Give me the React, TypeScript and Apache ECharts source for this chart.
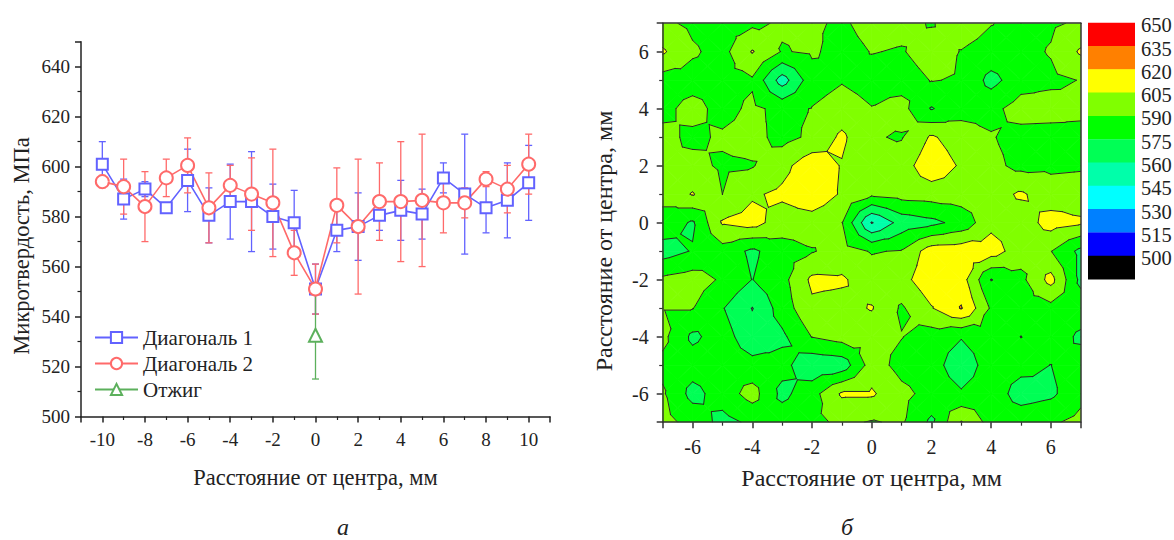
import React, { useEffect, useRef } from "react";
import * as echarts from "echarts";

// ---------- Panel (a): microhardness profiles ----------
const positions = [-10, -9, -8, -7, -6, -5, -4, -3, -2, -1, 0, 1, 2, 3, 4, 5, 6, 7, 8, 9, 10];
const diag1Values = [601, 587, 591, 583.5, 594.5, 580.5, 586, 586, 580, 577.5, 551, 574.5, 576, 580.5, 582.5, 581, 595.5, 589, 583.5, 586.5, 593.5];
const diag1Errors = [9, 8, 3, 2, 12.5, 11, 15, 20, 13, 13, 10, 8.5, 13.5, 6, 12, 10, 6, 24, 10, 15, 15];
const diag2Values = [594, 592, 584, 595.5, 600.5, 583.5, 592.5, 589, 585.5, 565.5, 551, 584.5, 576, 586, 586, 586.5, 585.5, 585.5, 595, 591, 601];
const diag2Errors = [2.5, 11, 14, 7.5, 11, 14, 8, 14.5, 21.5, 9, 10, 15, 27, 15.5, 24, 26.5, 12, 6, 3, 9.5, 12];
const annealPositions = [0];
const annealValues = [532.5];
const annealErrors = [17.5];
const seriesNames = ["Диагональ 1", "Диагональ 2", "Отжиг"];
const leftXTitle = "Расстояние от центра, мм";
const leftYTitle = "Микротвердость, МПа";
const rightXTitle = "Расстояние от центра, мм";
const rightYTitle = "Расстояние от центра, мм";

// ---------- Panel (б): hardness map, rows from y = 7 (top) to y = -7 (bottom), x = -7..7 ----------
const mapX = [-7, -6, -5, -4, -3, -2, -1, 0, 1, 2, 3, 4, 5, 6, 7];
const mapY = [7, 6, 5, 4, 3, 2, 1, 0, -1, -2, -3, -4, -5, -6, -7];
const rowY7 = [593, 587, 584, 587, 592, 592, 588, 595, 594, 589, 597, 590.5, 586, 588, 592];
const rowY6 = [607, 592, 585, 606, 589, 592, 585, 590.5, 589, 596, 589.5, 585, 586, 591, 607];
const rowY5 = [583, 584, 585, 588, 553, 584, 589, 585, 584, 590.5, 589, 570, 584, 587, 590.5];
const rowY4 = [586, 595, 585, 593, 586, 590.5, 596, 590.5, 595, 574, 585, 586, 596, 596, 593];
const rowY3 = [594, 587, 592, 595, 585, 593, 608, 591, 589, 607, 597, 591, 585, 584, 586];
const rowY2 = [590.5, 594, 588, 589, 600, 615, 604, 590.5, 598, 615, 603, 594, 586, 587, 588];
const rowY1 = [594, 606, 590, 603, 608, 617, 603, 593, 596, 597, 598, 599, 607, 597, 598];
const rowY0 = [585, 573, 606.5, 611, 597, 597, 590.5, 544, 566, 571, 580, 601, 597, 611, 607];
const rowYm1 = [568, 576, 584, 572, 584, 589, 596, 589, 591, 613, 614, 612, 597, 590.5, 571];
const rowYm2 = [593, 597, 588, 574.7, 585, 608, 607, 597, 600, 615, 612, 574.5, 586, 610, 571];
const rowYm3 = [590.5, 590.5, 576, 559.5, 582, 602, 600, 606, 588, 604, 621, 588, 583, 585, 584];
const rowYm4 = [594, 572, 582, 565, 572, 590.5, 596, 595, 590.5, 583, 576, 584, 574.8, 584, 572];
const rowYm5 = [586, 582, 584, 580, 580, 564, 566, 597, 585, 582, 565, 583, 580, 574.8, 583];
const rowYm6 = [592, 570, 582, 596, 571, 584, 607, 607, 594, 585, 577, 584, 568, 572, 586];
const rowYm7 = [595, 585, 570, 578, 584, 586, 593, 589, 592, 572, 606, 584, 585, 588, 594];
const mapRows = [rowY7, rowY6, rowY5, rowY4, rowY3, rowY2, rowY1, rowY0, rowYm1, rowYm2, rowYm3, rowYm4, rowYm5, rowYm6, rowYm7];

const levelBounds = [500, 515, 530, 545, 560, 575, 590, 605, 620, 635];
const bandColors = ["#000000", "#0000ff", "#0080ff", "#00ffff", "#00ffaa", "#00ff55", "#00ff00", "#80ff00", "#ffff00", "#ff8000", "#ff0000"];
const colorbarLabels = ["650", "635", "620", "605", "590", "575", "560", "545", "530", "515", "500"];

const FONT = "Liberation Serif";

type P = number[];

function nodeValue(x: number, y: number): number {
  const r = mapY.indexOf(y);
  const c = mapX.indexOf(x);
  return mapRows[r][c];
}

function cellTriangles(x0: number, y0: number): P[][] {
  const a = [x0, y0, nodeValue(x0, y0)];
  const b = [x0 + 1, y0, nodeValue(x0 + 1, y0)];
  const c = [x0 + 1, y0 + 1, nodeValue(x0 + 1, y0 + 1)];
  const d = [x0, y0 + 1, nodeValue(x0, y0 + 1)];
  const m = [x0 + 0.5, y0 + 0.5, (a[2] + b[2] + c[2] + d[2]) / 4];
  return [[a, b, m], [b, c, m], [c, d, m], [d, a, m]];
}

function clipPoly(pts: P[], level: number, keepAbove: boolean): P[] {
  const out: P[] = [];
  for (let i = 0; i < pts.length; i++) {
    const p = pts[i];
    const q = pts[(i + 1) % pts.length];
    const inP = keepAbove ? p[2] >= level : p[2] <= level;
    const inQ = keepAbove ? q[2] >= level : q[2] <= level;
    if (inP) out.push(p);
    if (inP !== inQ) {
      const t = (level - p[2]) / (q[2] - p[2]);
      out.push([p[0] + t * (q[0] - p[0]), p[1] + t * (q[1] - p[1]), level]);
    }
  }
  return out;
}

const mapCells: number[][] = [];
for (let x = -7; x < 7; x++) for (let y = -7; y < 7; y++) mapCells.push([x, y]);

function renderFill(params: any, api: any) {
  const x0 = api.value(0);
  const y0 = api.value(1);
  const children: any[] = [];
  for (const tri of cellTriangles(x0, y0)) {
    for (let bIdx = 0; bIdx < bandColors.length; bIdx++) {
      let poly = tri;
      if (bIdx > 0) poly = clipPoly(poly, levelBounds[bIdx - 1], true);
      if (poly.length < 3) continue;
      if (bIdx < bandColors.length - 1) poly = clipPoly(poly, levelBounds[bIdx], false);
      if (poly.length < 3) continue;
      children.push({
        type: "polygon",
        shape: { points: poly.map((p) => api.coord([p[0], p[1]])) },
        style: { fill: bandColors[bIdx], stroke: bandColors[bIdx], lineWidth: 0.8 },
      });
    }
  }
  return { type: "group", children };
}

function renderIso(params: any, api: any) {
  const x0 = api.value(0);
  const y0 = api.value(1);
  const children: any[] = [];
  for (const tri of cellTriangles(x0, y0)) {
    for (const lv of levelBounds) {
      const L = lv + 1e-6;
      const pts: number[][] = [];
      for (let i = 0; i < 3; i++) {
        const p = tri[i];
        const q = tri[(i + 1) % 3];
        if ((p[2] - L) * (q[2] - L) < 0) {
          const t = (L - p[2]) / (q[2] - p[2]);
          pts.push(api.coord([p[0] + t * (q[0] - p[0]), p[1] + t * (q[1] - p[1])]));
        }
      }
      if (pts.length === 2) {
        children.push({
          type: "line",
          shape: { x1: pts[0][0], y1: pts[0][1], x2: pts[1][0], y2: pts[1][1] },
          style: { stroke: "#2a2a2a", lineWidth: 1, lineCap: "round" },
        });
      }
    }
  }
  return { type: "group", children };
}

function errorBarRenderer(color: string) {
  return (params: any, api: any) => {
    const x = api.value(0);
    const lo = api.coord([x, api.value(1)]);
    const hi = api.coord([x, api.value(2)]);
    const w = 3.5;
    const st = { stroke: color, lineWidth: 1.3 };
    return {
      type: "group",
      children: [
        { type: "line", shape: { x1: lo[0], y1: lo[1], x2: hi[0], y2: hi[1] }, style: st },
        { type: "line", shape: { x1: lo[0] - w, y1: lo[1], x2: lo[0] + w, y2: lo[1] }, style: st },
        { type: "line", shape: { x1: hi[0] - w, y1: hi[1], x2: hi[0] + w, y2: hi[1] }, style: st },
      ],
    };
  };
}

const BLUE = "#6262ff";
const RED = "#ff6a6a";
const GREEN = "#5cb05c";
const INK = "#222";

export default function App() {
  const ref = useRef<HTMLDivElement>(null);
  useEffect(() => {
    if (!ref.current) return;
    const chart = echarts.init(ref.current, undefined, { renderer: "svg" });

    const graphic: any[] = [];
    const cbTop = 22.7;
    const cbStep = 23.3;
    for (let i = 0; i < colorbarLabels.length; i++) {
      graphic.push({
        type: "rect",
        shape: { x: 1088, y: cbTop + i * cbStep, width: 47, height: cbStep + 0.4 },
        style: { fill: bandColors[bandColors.length - 1 - i] },
      });
      graphic.push({
        type: "text",
        x: 1141,
        y: cbTop + i * cbStep + 2.5,
        style: { text: colorbarLabels[i], fontFamily: FONT, fontSize: 20.5, fill: INK, verticalAlign: "middle" },
      });
    }
    graphic.push({
      type: "text", x: 21, y: 246, rotation: Math.PI / 2,
      style: { text: leftYTitle, fontFamily: FONT, fontSize: 22.5, fill: INK, align: "center", verticalAlign: "middle" },
    });
    graphic.push({
      type: "text", x: 604, y: 241, rotation: Math.PI / 2,
      style: { text: rightYTitle, fontFamily: FONT, fontSize: 24, fill: INK, align: "center", verticalAlign: "middle" },
    });
    graphic.push({
      type: "text", x: 343, y: 527,
      style: { text: "а", fontFamily: FONT, fontSize: 24, fontStyle: "italic", fill: INK, align: "center", verticalAlign: "middle" },
    });
    graphic.push({
      type: "text", x: 847, y: 527,
      style: { text: "б", fontFamily: FONT, fontSize: 24, fontStyle: "italic", fill: INK, align: "center", verticalAlign: "middle" },
    });

    const option: any = {
      animation: false,
      grid: [
        { left: 81, top: 41.7, width: 469, height: 374.8 },
        { left: 662.7, top: 23.2, width: 418, height: 399 },
      ],
      legend: {
        data: seriesNames,
        orient: "vertical",
        left: 89,
        top: 322,
        itemWidth: 43,
        itemHeight: 14,
        itemGap: 5,
        textStyle: { fontFamily: FONT, fontSize: 21, color: INK },
      },
      xAxis: [
        {
          type: "value", gridIndex: 0, min: -11, max: 11, splitNumber: 11,
          name: leftXTitle, nameLocation: "middle", nameGap: 49,
          nameTextStyle: { fontFamily: FONT, fontSize: 22.5, color: INK },
          axisLine: { show: true, onZero: false, lineStyle: { color: INK, width: 1.5 } },
          axisTick: { show: true, length: 6, lineStyle: { color: INK, width: 1.5 } },
          minorTick: { show: true, splitNumber: 2, length: 3.5, lineStyle: { color: INK, width: 1.2 } },
          axisLabel: { fontFamily: FONT, fontSize: 19, color: INK, margin: 13, showMinLabel: false, showMaxLabel: false },
          splitLine: { show: false },
        },
        {
          type: "value", gridIndex: 1, min: -7, max: 7, splitNumber: 7, z: 5,
          name: rightXTitle, nameLocation: "middle", nameGap: 44,
          nameTextStyle: { fontFamily: FONT, fontSize: 24, color: INK },
          axisLine: { show: true, onZero: false, lineStyle: { color: "#333", width: 1.5 } },
          axisTick: { show: true, length: 6, lineStyle: { color: "#333", width: 1.5 } },
          minorTick: { show: true, splitNumber: 2, length: 3.5, lineStyle: { color: "#333", width: 1.2 } },
          axisLabel: { fontFamily: FONT, fontSize: 20, color: INK, margin: 15, showMinLabel: false, showMaxLabel: false },
          splitLine: { show: false },
        },
        {
          type: "value", gridIndex: 1, min: -7, max: 7, position: "top", z: 5,
          axisLine: { show: true, onZero: false, lineStyle: { color: "#333", width: 1.5 } },
          axisTick: { show: false }, axisLabel: { show: false }, splitLine: { show: false },
        },
      ],
      yAxis: [
        {
          type: "value", gridIndex: 0, min: 500, max: 650, interval: 20,
          axisLine: { show: true, onZero: false, lineStyle: { color: INK, width: 1.5 } },
          axisTick: { show: true, length: 6, lineStyle: { color: INK, width: 1.5 } },
          minorTick: { show: true, splitNumber: 2, length: 3.5, lineStyle: { color: INK, width: 1.2 } },
          axisLabel: { fontFamily: FONT, fontSize: 19, color: INK, margin: 11, showMaxLabel: false },
          splitLine: { show: false },
        },
        {
          type: "value", gridIndex: 1, min: -7, max: 7, splitNumber: 7, z: 5,
          axisLine: { show: true, onZero: false, lineStyle: { color: "#333", width: 1.5 } },
          axisTick: { show: true, length: 6, lineStyle: { color: "#333", width: 1.5 } },
          minorTick: { show: true, splitNumber: 2, length: 3.5, lineStyle: { color: "#333", width: 1.2 } },
          axisLabel: { fontFamily: FONT, fontSize: 20, color: INK, margin: 14, showMinLabel: false, showMaxLabel: false },
          splitLine: { show: false },
        },
        {
          type: "value", gridIndex: 1, min: -7, max: 7, position: "right", z: 5,
          axisLine: { show: true, onZero: false, lineStyle: { color: "#333", width: 1.5 } },
          axisTick: { show: false }, axisLabel: { show: false }, splitLine: { show: false },
        },
      ],
      series: [
        {
          type: "custom", name: "errD1", xAxisIndex: 0, yAxisIndex: 0, silent: true, z: 2,
          renderItem: errorBarRenderer(BLUE), encode: { x: 0, y: [1, 2] },
          data: positions.map((x, i) => [x, diag1Values[i] - diag1Errors[i], diag1Values[i] + diag1Errors[i]]),
        },
        {
          type: "custom", name: "errD2", xAxisIndex: 0, yAxisIndex: 0, silent: true, z: 2,
          renderItem: errorBarRenderer(RED), encode: { x: 0, y: [1, 2] },
          data: positions.map((x, i) => [x, diag2Values[i] - diag2Errors[i], diag2Values[i] + diag2Errors[i]]),
        },
        {
          type: "custom", name: "errAn", xAxisIndex: 0, yAxisIndex: 0, silent: true, z: 2,
          renderItem: errorBarRenderer(GREEN), encode: { x: 0, y: [1, 2] },
          data: annealPositions.map((x, i) => [x, annealValues[i] - annealErrors[i], annealValues[i] + annealErrors[i]]),
        },
        {
          type: "line", name: seriesNames[0], xAxisIndex: 0, yAxisIndex: 0, z: 3,
          symbol: "emptyRect", symbolSize: 11,
          lineStyle: { color: BLUE, width: 1.6 }, itemStyle: { color: BLUE, borderWidth: 1.6 },
          data: positions.map((x, i) => [x, diag1Values[i]]),
        },
        {
          type: "line", name: seriesNames[1], xAxisIndex: 0, yAxisIndex: 0, z: 3,
          symbol: "emptyCircle", symbolSize: 13,
          lineStyle: { color: RED, width: 1.6 }, itemStyle: { color: RED, borderWidth: 1.6 },
          data: positions.map((x, i) => [x, diag2Values[i]]),
        },
        {
          type: "line", name: seriesNames[2], xAxisIndex: 0, yAxisIndex: 0, z: 3,
          symbol: "emptyTriangle", symbolSize: 13,
          lineStyle: { color: GREEN, width: 1.6 }, itemStyle: { color: GREEN, borderWidth: 1.6 },
          data: annealPositions.map((x, i) => [x, annealValues[i]]),
        },
        {
          type: "custom", name: "mapFill", xAxisIndex: 1, yAxisIndex: 1, silent: true, z: 1,
          renderItem: renderFill, encode: { x: 0, y: 1 }, data: mapCells, clip: true,
        },
        {
          type: "custom", name: "mapIso", xAxisIndex: 1, yAxisIndex: 1, silent: true, z: 2,
          renderItem: renderIso, encode: { x: 0, y: 1 }, data: mapCells, clip: true,
        },
      ],
      graphic,
    };
    chart.setOption(option);
    return () => chart.dispose();
  }, []);

  return (
    <div
      ref={ref}
      style={{ position: "absolute", left: 0, top: 0, width: 1174, height: 540 }}
    />
  );
}
